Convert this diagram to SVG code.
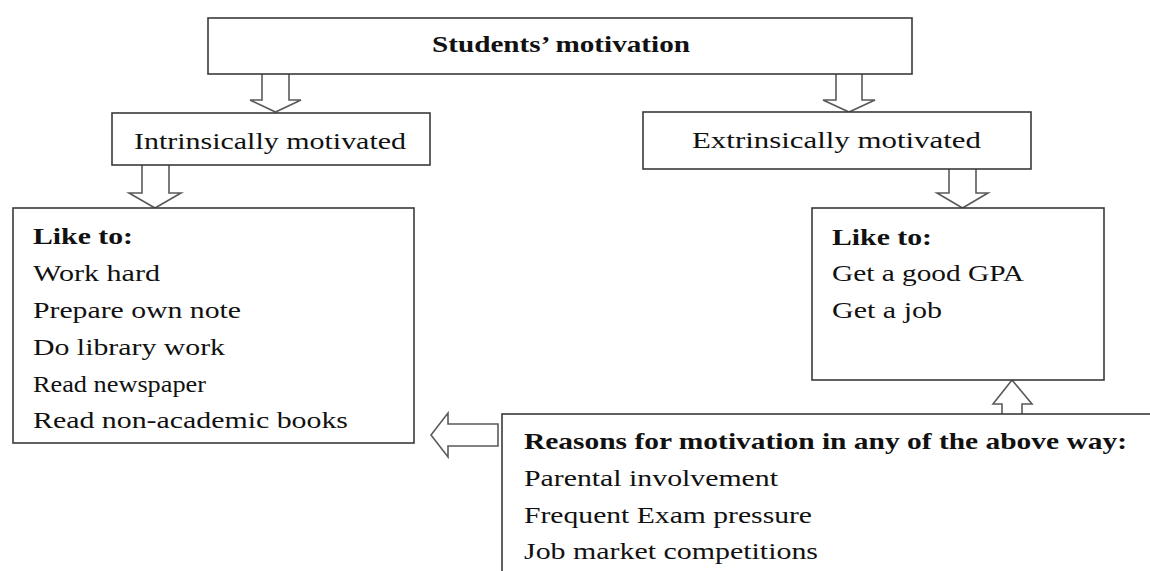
<svg xmlns="http://www.w3.org/2000/svg" width="1150" height="571" viewBox="0 0 1150 571">
<style>
.box{fill:#fff;stroke:#3a3a3a;stroke-width:1.6}
.arr{fill:#fff;stroke:#5a5a5a;stroke-width:1.6;stroke-linejoin:miter}
text{font-family:"Liberation Serif","Times New Roman",serif;font-size:24px;fill:#111}
.b{font-weight:bold}
</style>
<rect width="1150" height="571" fill="#fff"/>
<g id="connectors">
<path class="arr" d="M262,74 V100 H250 L275.5,112 L301,100 H289 V74"/>
<path class="arr" d="M836,74 V100 H823 L849,112 L875,100 H862 V74"/>
<path class="arr" d="M142,165 V193 H129 L155,208 L181,193 H169 V165"/>
<path class="arr" d="M949,166 V193 H937 L962.5,208 L988,193 H976 V166 Z"/>
<path class="arr" d="M1002,414 V404 H993 L1012,380 L1032,404 H1022 V414"/>
<path class="arr" d="M498,424 H448 V413 L431,435 L448,457 V446 H498 Z"/>
</g>
<g id="students-motivation">
<rect class="box" x="208" y="18" width="704" height="56"/>
<text class="b" x="432" y="52" textLength="258" lengthAdjust="spacingAndGlyphs">Students’ motivation</text>
</g>
<g id="intrinsic">
<rect class="box" x="112" y="113" width="318" height="52"/>
<text x="134" y="149" textLength="272" lengthAdjust="spacingAndGlyphs">Intrinsically motivated</text>
</g>
<g id="extrinsic">
<rect class="box" x="643" y="112" width="388" height="57"/>
<text x="692" y="148" textLength="289" lengthAdjust="spacingAndGlyphs">Extrinsically motivated</text>
</g>
<g id="intrinsic-likes">
<rect class="box" x="13" y="208" width="401" height="235"/>
<text class="b" x="33" y="244" textLength="100" lengthAdjust="spacingAndGlyphs">Like to:</text>
<text x="33" y="281" textLength="127" lengthAdjust="spacingAndGlyphs">Work hard</text>
<text x="33" y="318" textLength="208" lengthAdjust="spacingAndGlyphs">Prepare own note</text>
<text x="33" y="355" textLength="192" lengthAdjust="spacingAndGlyphs">Do library work</text>
<text x="33" y="392" textLength="173" lengthAdjust="spacingAndGlyphs">Read newspaper</text>
<text x="33" y="428" textLength="315" lengthAdjust="spacingAndGlyphs">Read non-academic books</text>
</g>
<g id="extrinsic-likes">
<rect class="box" x="812" y="208" width="292" height="172"/>
<text class="b" x="832" y="245" textLength="100" lengthAdjust="spacingAndGlyphs">Like to:</text>
<text x="832" y="281" textLength="192" lengthAdjust="spacingAndGlyphs">Get a good GPA</text>
<text x="832" y="318" textLength="110" lengthAdjust="spacingAndGlyphs">Get a job</text>
</g>
<g id="reasons">
<rect class="box" x="502" y="414" width="700" height="200"/>
<text class="b" x="524" y="449" textLength="603" lengthAdjust="spacingAndGlyphs">Reasons for motivation in any of the above way:</text>
<text x="524" y="486" textLength="254" lengthAdjust="spacingAndGlyphs">Parental involvement</text>
<text x="524" y="523" textLength="288" lengthAdjust="spacingAndGlyphs">Frequent Exam pressure</text>
<text x="524" y="559" textLength="294" lengthAdjust="spacingAndGlyphs">Job market competitions</text>
</g>
</svg>
